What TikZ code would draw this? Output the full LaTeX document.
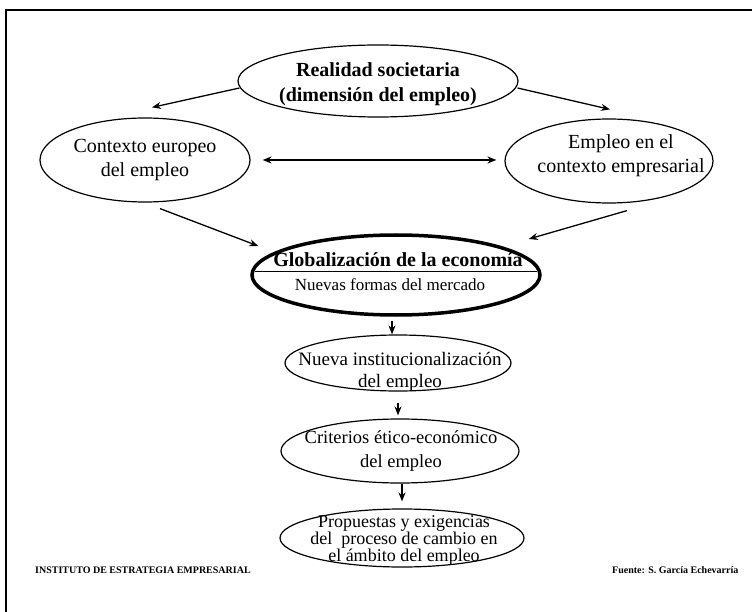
\documentclass[tikz,border=0pt]{standalone}
\usepackage{fontspec}
\setmainfont{Liberation Serif}
\usetikzlibrary{shapes.geometric,arrows.meta}
\begin{document}
\begin{tikzpicture}[x=1pt,y=-1pt,
  ell/.style={draw,ellipse,inner sep=0pt,line width=1.2pt},
  txt/.style={align=center,inner sep=0pt},
  arr/.style={line width=1.3pt,-{Stealth[length=9pt,width=7pt]}},
  darr/.style={line width=1.3pt,{Stealth[length=9pt,width=7pt]}-{Stealth[length=9pt,width=7pt]}},
  bigf/.style={font=\fontsize{20}{24}\selectfont},
  foot/.style={font=\bfseries\fontsize{10}{11}\selectfont,inner sep=0pt}]
\useasboundingbox (0,0) rectangle (752,612);
\fill[white] (0,0) rectangle (752,612);
% frame (scan edges)
\draw[line width=2pt] (5,10) -- (752,10);
\draw[line width=1.6pt] (6,10) -- (6,612);
% ellipses
\node[ell,minimum width=280pt,minimum height=72pt] (real) at (378,81) {};
\node[ell,minimum width=210pt,minimum height=84pt] (ctx) at (145,160) {};
\node[ell,minimum width=208pt,minimum height=84pt] (emp) at (609,161) {};
\node[ell,line width=3.5pt,minimum width=288pt,minimum height=80pt] (glob) at (396,275) {};
\node[ell,minimum width=226pt,minimum height=56pt] (nueva) at (398,363) {};
\node[ell,minimum width=238pt,minimum height=64pt] (crit) at (400,451) {};
\node[ell,minimum width=244pt,minimum height=58pt] (prop) at (402,538) {};
% texts
\node[txt,font=\bfseries\fontsize{20}{25}\selectfont] (realt) at (378,84) {Realidad societaria\\(dimensión del empleo)};
\node[txt,bigf] (ctxt) at (145,160) {Contexto europeo\\del empleo};
\node[txt,bigf] (empt) at (621,156) {Empleo en el\\contexto empresarial};
\node[txt,font=\bfseries\fontsize{20}{24}\selectfont] (globt) at (398,260) {Globalización de la economía};
\node[txt,font=\fontsize{17}{20}\selectfont] (globs) at (390,285) {Nuevas formas del mercado};
\node[txt,font=\fontsize{19}{22}\selectfont] (nuevat) at (400,372) {Nueva institucionalización\\del empleo};
\node[txt,font=\fontsize{18.5}{24}\selectfont] (critt) at (401,451) {Criterios ético-económico\\del empleo};
\node[txt,font=\fontsize{18}{17}\selectfont] (propt) at (404,540) {Propuestas y exigencias\\del\ \ proceso de cambio en\\el ámbito del empleo};
\node[foot,anchor=west] (iee) at (35,570) {INSTITUTO DE ESTRATEGIA EMPRESARIAL};
\node[foot,anchor=west] (src) at (612,570) {Fuente: S. García Echevarría};
% separating line in globalisation ellipse
\draw[line width=1pt] ([shift={(5,-3)}]glob.west) -- ([shift={(-5,-3)}]glob.east);
% connectors
\draw[arr] ([shift={(2,7)}]real.west) -- ([shift={(7,-10)}]ctx.north);
\draw[arr] ([shift={(-1,7)}]real.east) -- ([shift={(1,-9)}]emp.north);
\draw[darr] ([shift={(12,0)}]ctx.east) -- ([shift={(-8,-1)}]emp.west);
\draw[arr] ([shift={(15,6)}]ctx.south) -- ([shift={(8,-29)}]glob.west);
\draw[arr] ([shift={(18,7)}]emp.south) -- ([shift={(-13,-36)}]glob.east);
\draw[arr,line width=1.1pt] ([shift={(-4,4)}]glob.south) -- ([shift={(-6,0)}]nueva.north);
\draw[arr,line width=1.1pt] ([shift={(0,11)}]nueva.south) -- ([shift={(-2,-3)}]crit.north);
\draw[arr,line width=1.1pt] ([shift={(2,0)}]crit.south) -- ([shift={(0,-7)}]prop.north);
\end{tikzpicture}
\end{document}
